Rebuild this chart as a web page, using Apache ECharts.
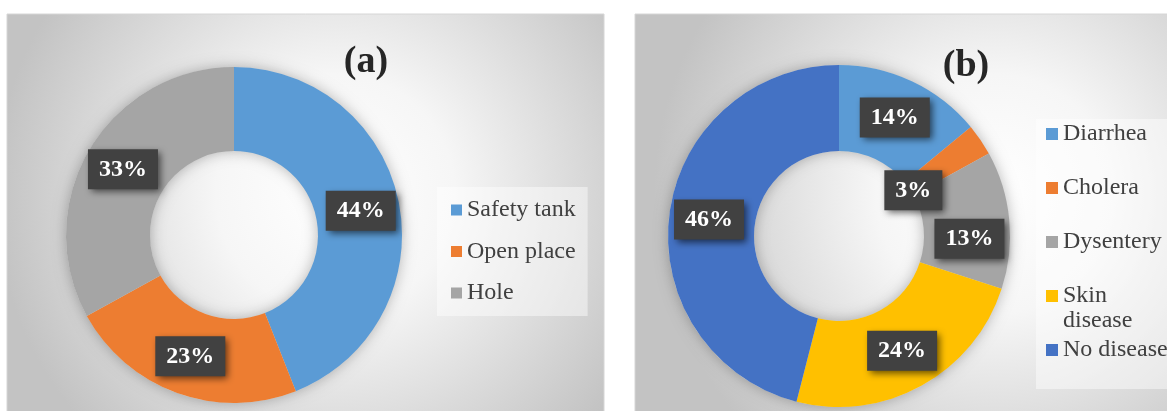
<!DOCTYPE html>
<html>
<head>
<meta charset="utf-8">
<script src="https://cdn.jsdelivr.net/npm/echarts@6/dist/echarts.min.js"></script>
<style>
  html, body { margin: 0; padding: 0; background: #ffffff; }
  #chart { width: 1167px; height: 411px; }
</style>
</head>
<body>
<div id="chart"></div>
<script>
// (a) where households dispose of waste, (b) reported diseases
const sanitationNames = ['Safety tank', 'Open place', 'Hole'];
const sanitationShares = [44, 23, 33];
const diseaseNames = ['Diarrhea', 'Cholera', 'Dysentery', 'Skin disease', 'No disease'];
const diseaseShares = [14, 3, 13, 24, 46];
const panelTitles = ['(a)', '(b)'];

const sanitationColors = ['#5B9BD5', '#ED7D31', '#A5A5A5'];
const diseaseColors = ['#5B9BD5', '#ED7D31', '#A5A5A5', '#FFC000', '#4472C4'];

const SERIF = '"Liberation Serif", "Times New Roman", Times, serif';

// dark boxed percentage labels with a drop shadow
const valueLabel = {
  show: true,
  position: 'inside',
  formatter: p => p.value + '%',
  color: '#ffffff',
  fontFamily: SERIF,
  fontWeight: 'bold',
  fontSize: 24,
  lineHeight: 24,
  backgroundColor: '#414141',
  padding: [8, 11, 8, 11],
  shadowColor: 'rgba(0,0,0,0.6)',
  shadowBlur: 7,
  shadowOffsetX: 3,
  shadowOffsetY: 3
};

function slices(names, values, colors) {
  return names.map((n, i) => ({ name: n, value: values[i], itemStyle: { color: colors[i] } }));
}

function ringShadow(center, radius, values) {
  return {
    type: 'pie', silent: true, z: 1,
    center, radius, label: { show: false }, labelLine: { show: false },
    data: [{ value: values.reduce((a, b) => a + b, 0), itemStyle: { color: '#d9d9d9', shadowBlur: 14, shadowColor: 'rgba(0,0,0,0.28)' } }],
    emphasis: { disabled: true }, tooltip: { show: false }
  };
}

const centerA = [234, 235], radiusA = [84, 168];
const centerB = [839, 236], radiusB = [85, 171];
// a few labels in (b) sit away from the ring midline
const nudgeB = [[0, 0], [-34, 28], [0, 15], [0, 0], [0, 0]];

const legendText = { fontFamily: SERIF, fontSize: 24, color: '#404040', lineHeight: 24 };

const option = {
  animation: false,
  graphic: [
    {
      type: 'rect', z: -10, silent: true,
      shape: { x: 7, y: 14, width: 597, height: 400 },
      style: {
        fill: { type: 'radial', x: 0.55, y: 0.45, r: 0.85, colorStops: [
          { offset: 0, color: '#ffffff' }, { offset: 0.35, color: '#f6f6f6' }, { offset: 1, color: '#c3c3c3' }] },
        stroke: '#d6d6d6', lineWidth: 1
      }
    },
    {
      type: 'rect', z: -10, silent: true,
      shape: { x: 635, y: 14, width: 600, height: 400 },
      style: {
        fill: { type: 'radial', x: 0.6, y: 0.45, r: 0.85, colorStops: [
          { offset: 0, color: '#ffffff' }, { offset: 0.35, color: '#f6f6f6' }, { offset: 1, color: '#c3c3c3' }] },
        stroke: '#d6d6d6', lineWidth: 1
      }
    },
    {
      type: 'text', z: 10, x: 366, y: 62,
      style: { text: panelTitles[0], font: 'bold 38px ' + SERIF, fill: '#262626', textAlign: 'center', textVerticalAlign: 'middle' }
    },
    {
      type: 'text', z: 10, x: 966, y: 66,
      style: { text: panelTitles[1], font: 'bold 38px ' + SERIF, fill: '#262626', textAlign: 'center', textVerticalAlign: 'middle' }
    },
    {
      // second line of the "Skin disease" legend entry
      type: 'text', z: 10, x: 1063, y: 321,
      style: { text: diseaseNames[3].split(' ')[1], font: '24px ' + SERIF, fill: '#404040', textAlign: 'left', textVerticalAlign: 'middle' }
    }
  ],
  legend: [
    {
      orient: 'vertical', left: 437, top: 187,
      padding: [11, 12, 11, 14],
      backgroundColor: 'rgba(255,255,255,0.45)',
      icon: 'rect', itemWidth: 11, itemHeight: 11, itemGap: 17.5,
      textStyle: legendText,
      data: sanitationNames,
      selectedMode: false
    },
    {
      orient: 'vertical', left: 1036, top: 119,
      padding: [3, 10, 27, 10],
      backgroundColor: 'rgba(255,255,255,0.45)',
      icon: 'rect', itemWidth: 12, itemHeight: 12, itemGap: 30,
      textStyle: legendText,
      formatter: n => (n === diseaseNames[3] ? n.split(' ')[0] : n),
      data: diseaseNames,
      selectedMode: false
    }
  ],
  series: [
    ringShadow(centerA, radiusA, sanitationShares),
    {
      type: 'pie', z: 2,
      center: centerA, radius: radiusA,
      startAngle: 90, clockwise: true, avoidLabelOverlap: false,
      data: slices(sanitationNames, sanitationShares, sanitationColors),
      label: valueLabel, labelLine: { show: false },
      emphasis: { disabled: true }
    },
    ringShadow(centerB, radiusB, diseaseShares),
    {
      type: 'pie', z: 2,
      center: centerB, radius: radiusB,
      startAngle: 90, clockwise: true, avoidLabelOverlap: false,
      data: slices(diseaseNames, diseaseShares, diseaseColors),
      label: valueLabel, labelLine: { show: false },
      labelLayout: p => ({ dx: nudgeB[p.dataIndex][0], dy: nudgeB[p.dataIndex][1] }),
      emphasis: { disabled: true }
    }
  ]
};

const chart = echarts.init(document.getElementById('chart'), null, { renderer: 'canvas' });
chart.setOption(option);
</script>
</body>
</html>
